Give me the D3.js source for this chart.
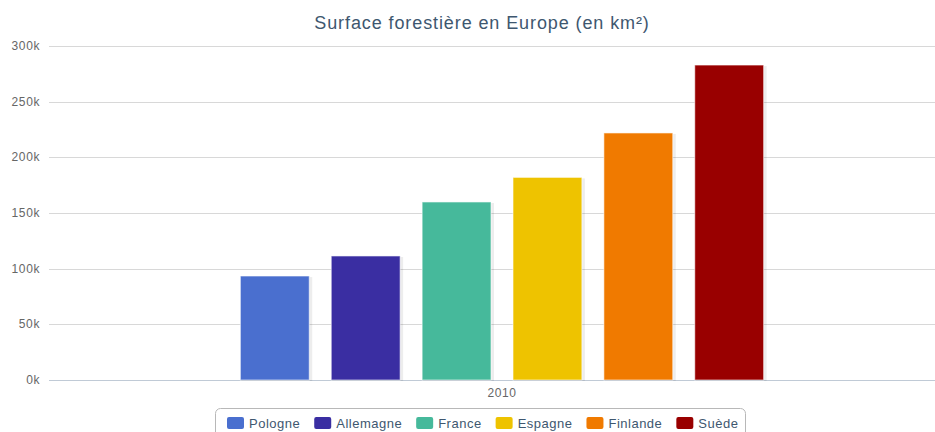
<!DOCTYPE html>
<html>
<head>
<meta charset="utf-8">
<script src="https://cdn.jsdelivr.net/npm/d3@7"></script>
<style>
  body { margin: 0; background: #fff; }
  svg { font-family: "Liberation Sans", Arial, sans-serif; }
</style>
</head>
<body>
<div id="chart"></div>
<script>
// data
const categories = ["2010"];
const countries = ["Pologne", "Allemagne", "France", "Espagne", "Finlande", "Suède"];
const values = [93400, 111400, 159900, 182000, 221900, 282900];
const colors = ["#4a6fcf", "#3a2ea2", "#46b99b", "#eec300", "#f07a00", "#990000"];
const yTicks = [0, 50000, 100000, 150000, 200000, 250000, 300000];

const width = 935, height = 432;
const plotLeft = 49, plotRight = 955, plotTop = 46, plotBottom = 380;

const svg = d3.select("#chart").append("svg")
    .attr("width", width)
    .attr("height", height);

const y = d3.scaleLinear().domain([0, 300000]).range([plotBottom, plotTop]);
const x0 = d3.scaleBand().domain(categories).range([plotLeft, plotRight]).paddingOuter(0.331).paddingInner(0);
const x1 = d3.scaleBand().domain(countries).range([0, x0.bandwidth()]).paddingInner(0.242).paddingOuter(0.12);

// title
svg.append("text")
    .attr("x", 482)
    .attr("y", 29)
    .attr("text-anchor", "middle")
    .attr("fill", "#3e576f")
    .attr("font-size", "18px")
    .attr("letter-spacing", "0.9px")
    .text("Surface forestière en Europe (en km²)");

// grid lines
svg.append("g").selectAll("line")
    .data(yTicks)
    .join("line")
    .attr("x1", plotLeft).attr("x2", width)
    .attr("y1", d => Math.round(y(d)) + 0.5)
    .attr("y2", d => Math.round(y(d)) + 0.5)
    .attr("stroke", d => d === 0 ? "#c0cad6" : "#d8d8d8")
    .attr("stroke-width", 1);

// y labels
svg.append("g").selectAll("text")
    .data(yTicks)
    .join("text")
    .attr("x", 40)
    .attr("y", d => y(d) + 4)
    .attr("text-anchor", "end")
    .attr("fill", "#666")
    .attr("font-size", "12px")
    .attr("letter-spacing", "0.6px")
    .text(d => (d / 1000) + "k");

// x label
svg.append("g").selectAll("text")
    .data(categories)
    .join("text")
    .attr("x", d => x0(d) + x0.bandwidth() / 2)
    .attr("y", 397)
    .attr("text-anchor", "middle")
    .attr("fill", "#666")
    .attr("font-size", "12px")
    .attr("letter-spacing", "0.6px")
    .text(d => d);

// bars
const group = svg.append("g").attr("transform", `translate(${x0(categories[0])},0)`);
const data = countries.map((c, i) => ({ name: c, value: values[i], color: colors[i] }));

// shadow
group.selectAll("rect.shadow")
    .data(data)
    .join("rect")
    .attr("class", "shadow")
    .attr("x", d => x1(d.name) + 1)
    .attr("y", d => y(d.value) + 1)
    .attr("width", x1.bandwidth() + 2)
    .attr("height", d => plotBottom - y(d.value))
    .attr("fill", "rgba(0,0,0,0.07)");

group.selectAll("rect.bar")
    .data(data)
    .join("rect")
    .attr("class", "bar")
    .attr("x", d => x1(d.name))
    .attr("y", d => y(d.value))
    .attr("width", x1.bandwidth())
    .attr("height", d => plotBottom - y(d.value))
    .attr("fill", d => d.color)
    .attr("stroke", "#fff")
    .attr("stroke-opacity", 0.6)
    .attr("stroke-width", 1);

// legend
const legend = svg.append("g");
legend.append("rect")
    .attr("x", 215.5).attr("y", 408.5)
    .attr("width", 530).attr("height", 36)
    .attr("rx", 5)
    .attr("fill", "#fff")
    .attr("stroke", "#b8b8b8");

let lx = 227;
data.forEach(d => {
    const item = legend.append("g").attr("transform", `translate(${lx},0)`);
    item.append("rect")
        .attr("x", 0).attr("y", 417)
        .attr("width", 17).attr("height", 12)
        .attr("rx", 2)
        .attr("fill", d.color);
    const t = item.append("text")
        .attr("x", 22).attr("y", 428)
        .attr("fill", "#3e576f")
        .attr("font-size", "13px")
        .attr("letter-spacing", "0.5px")
        .text(d.name);
    lx += 22 + t.node().getComputedTextLength() + 14;
});
</script>
</body>
</html>
